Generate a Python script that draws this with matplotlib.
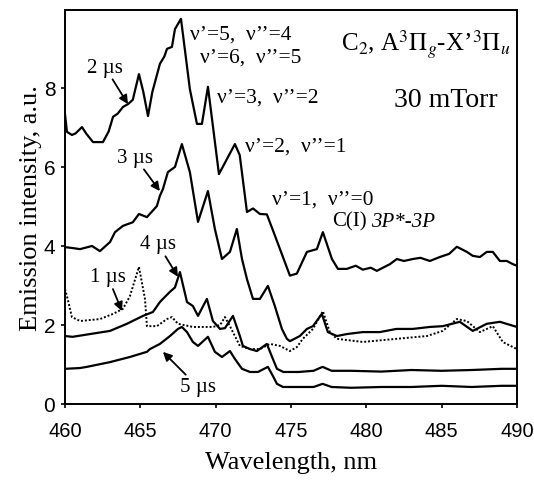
import matplotlib
matplotlib.use("Agg")
import matplotlib.pyplot as plt

plt.rcParams["font.family"] = ["Liberation Serif", "DejaVu Serif"]
plt.rcParams["mathtext.fontset"] = "stix"

# Time-resolved C2 Swan-band emission spectra, 30 mTorr
wl_2us = [460.0, 460.13, 460.46, 460.7, 461.13, 461.4, 461.86, 462.52, 462.9, 463.19,
          463.5, 463.85, 464.18, 464.5, 464.91, 465.2, 465.51, 465.8, 466.30, 466.6,
          466.77, 467.10, 467.30, 467.70, 468.29, 468.76, 469.09, 469.49, 470.22, 470.75,
          471.28, 471.6, 472.08, 472.48, 472.94, 473.40, 473.9, 474.93, 475.39, 476.06,
          476.72, 477.12, 477.72, 478.12, 478.71, 479.3, 479.77, 480.3, 480.70, 481.57,
          482.03, 482.5, 483.09, 483.6, 484.22, 484.88, 485.5, 486.01, 486.68, 487.07,
          487.54, 488.0, 488.4, 488.87, 489.33, 489.73, 490.0]
int_2us = [7.34, 6.89, 6.81, 6.85, 7.01, 6.85, 6.63, 6.63, 6.9, 7.27,
           7.35, 7.52, 7.59, 7.7, 8.35, 7.9, 7.29, 7.9, 8.61, 8.8,
           8.99, 9.04, 9.49, 9.75, 7.97, 7.09, 7.09, 8.03, 5.82, 6.20,
           6.58, 6.3, 4.86, 4.95, 4.81, 4.8, 4.3, 3.25, 3.3, 3.85,
           3.92, 4.35, 3.67, 3.42, 3.42, 3.5, 3.40, 3.45, 3.37, 3.54,
           3.67, 3.62, 3.67, 3.7, 3.62, 3.72, 3.8, 3.98, 3.85, 3.75,
           3.72, 3.85, 3.85, 3.62, 3.62, 3.54, 3.50]

wl_3us = [460.0, 460.46, 461.0, 461.5, 461.79, 462.32, 462.99, 463.32, 463.85, 464.5,
          464.91, 465.44, 466.10, 466.30, 466.50, 466.83, 467.30, 467.76, 468.29, 468.83,
          469.49, 469.95, 470.42, 470.95, 471.41, 471.75, 472.08, 472.48, 472.94, 473.47,
          473.93, 474.40, 474.73, 474.93, 475.59, 476.06, 476.46, 477.05, 477.45, 478.05,
          478.71, 479.77, 480.90, 482.0, 483.09, 484.22, 485.08, 486.21, 487.07, 488.0,
          488.87, 490.0]
int_3us = [3.97, 3.95, 3.92, 3.97, 4.0, 3.87, 4.10, 4.35, 4.51, 4.6,
           4.81, 4.73, 5.01, 5.27, 5.44, 5.87, 6.0, 6.58, 5.87, 4.61,
           5.39, 4.43, 3.67, 3.85, 4.43, 3.67, 3.16, 2.66, 2.66, 2.99,
           2.48, 1.90, 1.65, 1.59, 1.72, 1.90, 1.97, 2.28, 1.82, 1.72,
           1.77, 1.82, 1.82, 1.9, 1.90, 1.95, 1.97, 2.08, 1.85, 2.03,
           2.08, 1.95]

wl_4us = [460.0, 460.5, 461.66, 462.99, 464.11, 465.18, 465.84, 466.30, 466.50, 466.97,
          467.30, 467.63, 468.10, 468.49, 468.83, 469.42, 469.82, 470.29, 470.62, 471.15,
          471.61, 471.81, 472.28, 472.74, 473.40, 473.80, 474.07, 474.5, 475.5, 476.5,
          477.1, 477.7, 479.0, 481.0, 483.0, 485.0, 487.0, 489.0, 490.0]
int_4us = [1.72, 1.70, 1.77, 1.85, 2.03, 2.23, 2.33, 2.58, 2.66, 2.84,
           2.95, 3.34, 2.58, 2.48, 2.23, 2.66, 2.10, 1.90, 1.92, 2.23,
           1.72, 1.47, 1.39, 1.34, 1.52, 1.14, 0.89, 0.81, 0.81, 0.84,
           0.94, 0.84, 0.84, 0.82, 0.86, 0.84, 0.86, 0.89, 0.89]

wl_5us = [460.0, 461.0, 461.46, 462.99, 464.31, 465.44, 465.64, 466.30, 466.97, 467.5,
          467.76, 468.10, 468.49, 468.83, 469.49, 469.95, 470.42, 470.95, 471.28, 471.75,
          472.28, 472.81, 473.47, 473.80, 474.07, 474.47, 475.5, 476.5, 477.1, 477.7,
          479.0, 481.0, 483.0, 485.0, 487.0, 489.0, 490.0]
int_5us = [0.89, 0.91, 0.94, 1.06, 1.19, 1.32, 1.39, 1.52, 1.72, 1.9,
           1.95, 1.82, 1.57, 1.47, 1.70, 1.32, 1.19, 1.34, 1.14, 0.89,
           0.81, 0.81, 0.94, 0.71, 0.51, 0.43, 0.43, 0.43, 0.51, 0.43,
           0.41, 0.43, 0.43, 0.46, 0.43, 0.46, 0.46]

wl_1us = [460.0, 460.13, 460.46, 461.0, 462.32, 463.19, 463.85, 464.31, 464.91, 465.31,
          465.44, 466.10, 466.77, 467.10, 467.50, 468.49, 469.09, 469.82, 470.3, 470.62,
          470.95, 471.28, 471.61, 472.28, 472.94, 473.60, 474.27, 474.93, 475.39, 475.79,
          476.46, 477.12, 477.58, 478.05, 479.77, 482.03, 484.02, 485.08, 486.01, 486.68,
          487.54, 488.4, 489.06, 490.0]
int_1us = [2.91, 2.73, 2.20, 2.10, 2.15, 2.28, 2.41, 2.73, 3.47, 2.66,
           1.97, 1.97, 2.15, 2.20, 2.03, 1.95, 1.95, 1.95, 2.0, 2.2,
           1.97, 1.72, 1.47, 1.39, 1.39, 1.52, 1.47, 1.34, 1.44, 1.65,
           1.90, 2.35, 1.82, 1.65, 1.57, 1.65, 1.72, 1.85, 2.15, 2.10,
           1.82, 1.97, 1.57, 1.39]

x_ticks = [460, 465, 470, 475, 480, 485, 490]
y_ticks = [0, 2, 4, 6, 8]

fig = plt.figure(figsize=(5.34, 4.85), dpi=100)
ax = fig.add_axes([0.1217, 0.165, 0.8463, 0.812])

lw = 1.6
ax.plot(wl_2us, int_2us, color="k", lw=lw)
ax.plot(wl_3us, int_3us, color="k", lw=lw)
ax.plot(wl_4us, int_4us, color="k", lw=lw)
ax.plot(wl_5us, int_5us, color="k", lw=lw)
ax.plot(wl_1us, int_1us, color="k", lw=1.4, linestyle=(0, (1, 1)))

ax.set_xlim(460, 490)
ax.set_ylim(0, 9.97)
ax.set_xticks(x_ticks)
ax.set_yticks(y_ticks)
ax.tick_params(axis="both", direction="out", length=3, width=1.2)
ax.tick_params(axis="x", pad=9)
ax.tick_params(axis="y", pad=4)
for lab in ax.get_xticklabels():
    lab.set_fontfamily("Liberation Sans")
    lab.set_fontsize(14.5)
for lab in ax.get_yticklabels():
    lab.set_fontfamily("Liberation Sans")
    lab.set_fontsize(15)
for sp in ax.spines.values():
    sp.set_linewidth(1.4)

ax.set_xlabel("Wavelength, nm", fontsize=19, labelpad=8)
ax.set_ylabel("Emission intensity, a.u.", fontsize=19, labelpad=1)

arrow = dict(arrowstyle="-|>", color="k", lw=1.3, mutation_scale=13, shrinkA=0, shrinkB=0)
fs_t = 15
ax.annotate("2 µs", xy=(464.18, 7.59), xytext=(462.65, 8.53), fontsize=fs_t,
            ha="center", va="center", arrowprops=arrow)
ax.annotate("3 µs", xy=(466.30, 5.39), xytext=(464.64, 6.25), fontsize=fs_t,
            ha="center", va="center", arrowprops=arrow)
ax.annotate("4 µs", xy=(467.5, 3.22), xytext=(466.17, 4.05), fontsize=fs_t,
            ha="center", va="center", arrowprops=arrow)
ax.annotate("1 µs", xy=(463.78, 2.35), xytext=(462.85, 3.22), fontsize=fs_t,
            ha="center", va="center", arrowprops=arrow)
ax.annotate("5 µs", xy=(466.5, 1.32), xytext=(468.83, 0.43), fontsize=fs_t,
            ha="center", va="center", arrowprops=arrow)

fs_v = 15.5
ax.text(468.29, 9.37, "ν’=5,  ν’’=4", fontsize=fs_v, ha="left", va="center")
ax.text(468.96, 8.78, "ν’=6,  ν’’=5", fontsize=fs_v, ha="left", va="center")
ax.text(470.09, 7.77, "ν’=3,  ν’’=2", fontsize=fs_v, ha="left", va="center")
ax.text(471.94, 6.53, "ν’=2,  ν’’=1", fontsize=fs_v, ha="left", va="center")
ax.text(473.74, 5.19, "ν’=1,  ν’’=0", fontsize=fs_v, ha="left", va="center")
ax.text(477.72, 4.63, "C(I)", fontsize=15, ha="left", va="center")
ax.text(480.3, 4.63, "3P*-3P", fontsize=15, fontstyle="italic", ha="left", va="center")

ax.text(489.6, 9.11, r"C$_2$, A$^3\Pi_g$-X’$^3\Pi_u$", fontsize=18,
        ha="right", va="center")
ax.text(485.28, 7.72, "30 mTorr", fontsize=20, ha="center", va="center")

fig.savefig("out.png", dpi=100)
